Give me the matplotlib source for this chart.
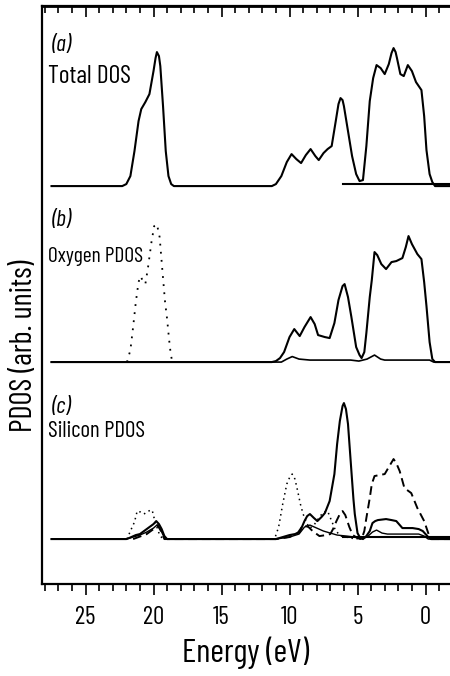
import matplotlib
matplotlib.use("Agg")
import matplotlib.pyplot as plt
from matplotlib.ticker import MultipleLocator

FONT = ['Barlow Condensed', 'DejaVu Sans']
plt.rcParams['font.family'] = FONT
plt.rcParams['font.weight'] = 'normal'

# ---------------- data (energy in eV, height in arb. units) ----------------
total_E = [27.5, 22.3, 22.0, 21.7, 21.4, 21.1, 20.9, 20.6, 20.3, 20.0, 19.85, 19.75, 19.6, 19.5, 19.3, 19.1, 18.9,
           18.7, 18.5,
           11.3, 11.0, 10.6, 10.2, 9.85, 9.5, 9.15, 8.8, 8.45, 8.1, 7.85, 7.5, 7.2, 6.9, 6.6, 6.4, 6.25, 6.1, 6.0,
           5.7, 5.4, 5.1, 4.85, 4.6, 4.35, 4.1, 3.85, 3.6, 3.3, 3.0, 2.7, 2.5, 2.35, 2.2, 2.1, 1.85, 1.6, 1.3,
           1.0, 0.7, 0.3, 0.1, -0.07, -0.3, -0.5, -0.7, -1.8]
total_D = [0, 0, 2, 10, 35, 65, 77, 84, 92, 115, 128, 134, 130, 120, 80, 35, 10,
           2, 0,
           0, 2, 10, 24, 32, 27, 23, 31, 37, 30, 26, 33, 37, 40, 65, 82, 88, 86, 80,
           55, 30, 12, 5, 6, 40, 85, 108, 121, 118, 112, 122, 133, 138, 134, 128, 112, 110, 121,
           115, 104, 96, 70, 36, 12, 4, 0, 0]

oxy_E = [27.5, 11.3, 11.0, 10.7, 10.4, 10.0, 9.65, 9.25, 8.9, 8.45, 8.15, 7.9, 7.4, 7.05, 6.7, 6.4, 6.1, 5.95,
         5.7, 5.45, 5.1, 4.85, 4.7, 4.5, 4.35, 4.1, 3.95, 3.75, 3.55, 3.25, 2.9, 2.5, 2.15, 1.7, 1.45, 1.25, 1.0,
         0.6, 0.3, 0.1, -0.07, -0.3, -0.5, -0.7, -1.8]
oxy_D = [0, 0, 1, 4, 10, 25, 33, 26, 35, 45, 38, 27, 25, 24, 39, 62, 76, 78,
         65, 45, 15, 7, 4, 10, 29, 65, 82, 110, 107, 98, 93, 100, 101, 104, 115, 126, 118,
         108, 103, 80, 56, 20, 3, 0, 0]

oxy_small_E = [27.5, 10.6, 10.2, 9.8, 9.3, 8.5, 7.0, 5.5, 4.9, 4.3, 3.75, 3.3, 3.0, 1.0, -0.3, -0.6, -1.8]
oxy_small_D = [0, 0, 3, 5.5, 3, 2, 2, 2, 1, 3, 7, 3, 2, 2, 2, 0, 0]

oxy_dot_E = [21.95, 21.7, 21.5, 21.3, 21.1, 20.95, 20.75, 20.6, 20.4, 20.15, 19.95, 19.75, 19.55, 19.35,
             19.15, 19.0, 18.85, 18.75, 18.65, 18.6]
oxy_dot_D = [0, 12, 35, 60, 80, 86, 80, 78, 95, 120, 136, 138, 125, 92, 60, 43, 22, 10, 2, 0]

si_E = [27.5, 22.0, 21.8, 21.3, 21.0, 20.7, 20.5, 20.2, 20.0, 19.8, 19.6, 19.4, 19.2, 19.0,
        11.0, 10.5, 10.0, 9.6, 9.25, 8.9, 8.7, 8.5, 8.2, 7.95, 7.65, 7.4, 7.05, 6.7, 6.5, 6.3, 6.1, 6.0,
        5.85, 5.7, 5.45, 5.3, 5.2, 5.0, 4.8, 4.6, 4.35, 4.1, 3.9, 3.7, 3.5, 2.9, 2.5, 2.15, 1.7, 1.3,
        0.95, 0.5, 0.2, -0.2, -0.4, -1.8]
si_D = [0, 0, 1, 4, 5, 8, 10, 13, 15, 18, 15, 10, 3, 0,
        0, 2, 4, 5, 7, 18, 23, 25, 21, 18, 22, 26, 38, 65, 95, 118, 133, 136,
        130, 115, 68, 40, 25, 6, 1, 0, 3, 8, 16, 18, 19, 20, 19, 18, 11, 11,
        11, 10, 8, 2, 0, 0]

si_thin_E = [27.5, 22.0, 21.5, 21.0, 20.5, 20.0, 19.75, 19.5, 19.3, 19.1, 11.0, 10.0, 9.3, 8.9, 8.5, 8.0,
             7.5, 7.0, 6.5, 5.8, 5.2, 4.8, 4.3, 3.9, 3.6, 3.2, 2.8, 1.5, 0.5, 0.1, -0.2, -1.8]
si_thin_D = [0, 0, 2, 4, 7, 11, 14, 10, 4, 0, 0, 2, 5, 12, 14, 11,
             8, 6, 4, 3, 2, 0, 2, 7, 9, 6, 5, 5, 5, 3, 0, 0]

si_dot_E = [21.95, 21.7, 21.4, 21.2, 20.95, 20.7, 20.4, 20.1, 19.9, 19.7, 19.55, 19.3,
            11.1, 10.8, 10.5, 10.2, 9.95, 9.8, 9.6, 9.4, 9.2, 9.0, 8.7, 8.5, 8.2, 7.8, 7.5, 7.2, 6.9, 6.6,
            6.2, 5.5, 5.0]
si_dot_D = [0, 8, 17, 28, 27, 25, 28, 29, 18, 10, 4, 0,
            0, 12, 35, 55, 63, 65, 60, 48, 35, 25, 15, 11, 14, 22, 27, 28, 18, 8,
            3, 1, 0]

si_dash_E = [21.5, 20.5, 20.0, 19.7, 19.45, 19.2, 11.0, 10.0, 9.4, 9.0, 8.6, 8.3, 7.8, 7.3, 7.0, 6.8,
             6.55, 6.3, 6.1, 5.9, 5.6, 5.35, 5.0, 4.7, 4.5, 4.35, 4.1, 3.95, 3.75, 3.4, 3.0, 2.7, 2.35,
             2.15, 1.9, 1.55, 1.05, 0.6, 0.1, -0.1, -0.3, -0.45, -1.8]
si_dash_D = [0, 5, 10, 14, 8, 0, 0, 2, 6, 14, 12, 8, 3, 4, 5, 10,
             18, 25, 28, 24, 12, 4, 1, 0, 8, 21, 41, 55, 63, 64, 65, 72, 80,
             76, 68, 51, 46, 31, 18, 10, 2, 0, 0]

fermi_E = [6.1, -1.8]
fermi_D = [2, 2]

panel_tags = ['(a)', '(b)', '(c)']
panel_names = ['Total DOS', 'Oxygen PDOS', 'Silicon PDOS']
xticks_major = [25, 20, 15, 10, 5, 0]

# ---------------- layout ----------------
offsets = [398, 222, 45]

fig = plt.figure(figsize=(4.5, 6.76), dpi=100)
ax = fig.add_axes([0.0933, 0.136, 0.9067, 0.855])


def shift(vals, off):
    return [v + off for v in vals]


lw = 1.5
# (a)
ax.plot(total_E, shift(total_D, offsets[0]), color='black', lw=lw)
ax.plot(fermi_E, shift(fermi_D, offsets[0]), color='black', lw=lw)
# (b)
ax.plot(oxy_E, shift(oxy_D, offsets[1]), color='black', lw=lw)
ax.plot(oxy_small_E, shift(oxy_small_D, offsets[1]), color='black', lw=1.2)
ax.plot(oxy_dot_E, shift(oxy_dot_D, offsets[1]), color='black', lw=1.3, ls=(0, (1, 3.5)))
# (c)
ax.plot(si_E, shift(si_D, offsets[2]), color='black', lw=lw)
ax.plot(si_thin_E, shift(si_thin_D, offsets[2]), color='black', lw=1.0)
ax.plot(si_dot_E, shift(si_dot_D, offsets[2]), color='black', lw=1.1, ls=(0, (1, 2.5)))
ax.plot(si_dash_E, shift(si_dash_D, offsets[2]), color='black', lw=1.4, ls=(0, (4.5, 2.5)))
ax.plot(fermi_E, shift(fermi_D, offsets[2]), color='black', lw=lw)

ax.set_xlim(28.2, -1.8)
ax.set_ylim(0, 578)

# labels of panels
tag_y = [539, 364, 177]
name_y = [508, 328, 153]
name_size = [18.5, 15.5, 16.5]
for t, n, ty, ny, fs in zip(panel_tags, panel_names, tag_y, name_y, name_size):
    ax.text(27.5, ty, t, fontsize=17, va='center', ha='left', style='italic')
    ax.text(27.75, ny, n, fontsize=fs, va='center', ha='left')

# ticks
ax.set_xticks(xticks_major)
ax.set_xticklabels([str(v) for v in xticks_major])
ax.xaxis.set_minor_locator(MultipleLocator(1))
ax.tick_params(axis='x', which='major', direction='out', length=8, width=1.2, labelsize=18, pad=8)
ax.tick_params(axis='x', which='minor', direction='out', length=5, width=1.2)
ax.set_yticks([])

top = ax.twiny()
top.set_xlim(ax.get_xlim())
top.xaxis.set_major_locator(MultipleLocator(5))
top.xaxis.set_minor_locator(MultipleLocator(1))
top.tick_params(axis='x', which='major', direction='in', length=8, width=1.2, labeltop=False)
top.tick_params(axis='x', which='minor', direction='in', length=5, width=1.2)
top.set_yticks([])
for s in ['left', 'right', 'bottom']:
    top.spines[s].set_visible(False)
top.spines['top'].set_linewidth(2.0)

for s in ['left', 'bottom', 'top']:
    ax.spines[s].set_linewidth(1.6)
ax.spines['right'].set_visible(False)

ax.set_xlabel('Energy (eV)', fontsize=24, labelpad=5)
ax.set_ylabel('PDOS (arb. units)', fontsize=22)
ax.yaxis.set_label_coords(-0.010, 0.413)

fig.savefig('out.png', dpi=100)
